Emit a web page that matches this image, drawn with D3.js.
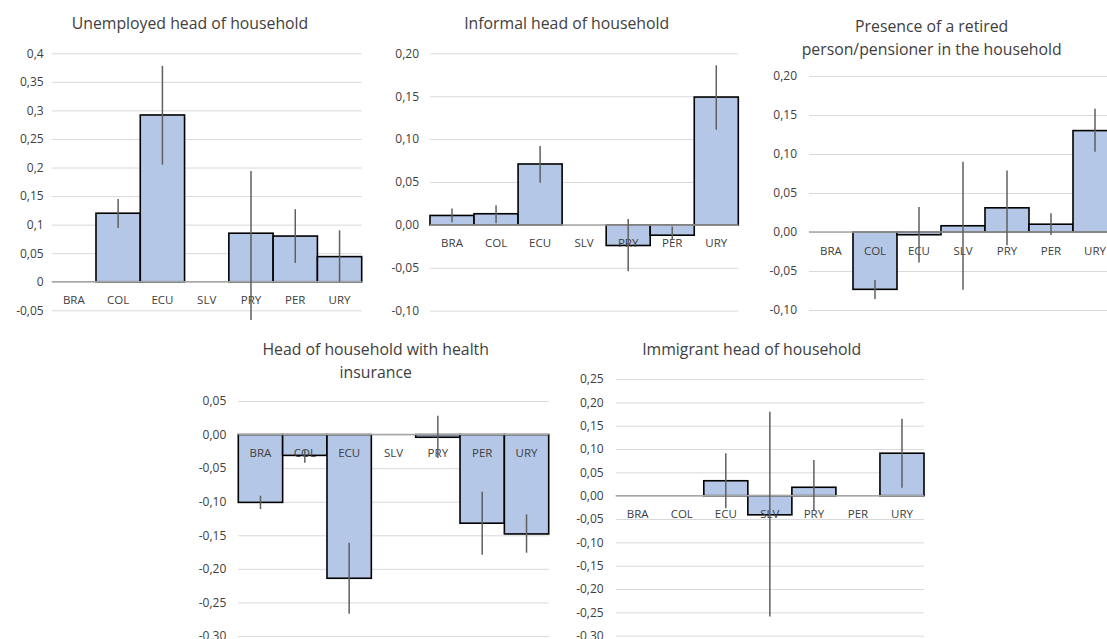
<!DOCTYPE html>
<html>
<head>
<meta charset="utf-8">
<script src="https://cdn.jsdelivr.net/npm/d3@7"></script>
<style>
  html, body { margin: 0; padding: 0; background: #ffffff; }
  svg { display: block; }
  text { font-family: "Open Sans", "Noto Sans", sans-serif; fill: #404040; }
</style>
</head>
<body>
<svg id="chart" width="1107" height="639"></svg>
<script>
// Countries shown on every panel
const categories = ["BRA", "COL", "ECU", "SLV", "PRY", "PER", "URY"];

// Unemployed head of household
const unemployed     = [null, 0.120, 0.292, null, 0.085, 0.080, 0.044];
const unemployedHigh = [null, 0.145, 0.378, null, 0.194, 0.127, 0.090];
const unemployedLow  = [null, 0.094, 0.205, null, -0.067, 0.033, 0.000];
const unemployedTicks = [-0.05, 0, 0.05, 0.1, 0.15, 0.2, 0.25, 0.3, 0.35, 0.4];
const unemployedTickLabels = ["-0,05", "0", "0,05", "0,1", "0,15", "0,2", "0,25", "0,3", "0,35", "0,4"];

// Informal head of household
const informal     = [0.011, 0.013, 0.071, null, -0.024, -0.012, 0.149];
const informalHigh = [0.019, 0.023, 0.092, null, 0.007, -0.002, 0.186];
const informalLow  = [0.003, 0.002, 0.049, null, -0.054, -0.017, 0.111];
const informalTicks = [-0.10, -0.05, 0, 0.05, 0.10, 0.15, 0.20];
const informalTickLabels = ["-0,10", "-0,05", "0,00", "0,05", "0,10", "0,15", "0,20"];

// Presence of a retired person/pensioner in the household
const retired     = [null, -0.0735, -0.0035, 0.008, 0.031, 0.010, 0.130];
const retiredHigh = [null, -0.0615, 0.032, 0.090, 0.079, 0.024, 0.158];
const retiredLow  = [null, -0.086, -0.039, -0.074, -0.017, -0.004, 0.103];
const retiredTicks = [-0.10, -0.05, 0, 0.05, 0.10, 0.15, 0.20];
const retiredTickLabels = ["-0,10", "-0,05", "0,00", "0,05", "0,10", "0,15", "0,20"];

// Head of household with health insurance
const health     = [-0.101, -0.031, -0.214, null, -0.004, -0.132, -0.148];
const healthHigh = [-0.091, -0.022, -0.161, null, 0.028, -0.085, -0.119];
const healthLow  = [-0.111, -0.042, -0.267, null, -0.035, -0.179, -0.176];
const healthTicks = [-0.30, -0.25, -0.20, -0.15, -0.10, -0.05, 0, 0.05];
const healthTickLabels = ["-0,30", "-0,25", "-0,20", "-0,15", "-0,10", "-0,05", "0,00", "0,05"];

// Immigrant head of household
const immigrant     = [null, null, 0.032, -0.041, 0.018, null, 0.091];
const immigrantHigh = [null, null, 0.091, 0.180, 0.0765, null, 0.165];
const immigrantLow  = [null, null, -0.027, -0.259, -0.031, null, 0.017];
const immigrantTicks = [-0.30, -0.25, -0.20, -0.15, -0.10, -0.05, 0, 0.05, 0.10, 0.15, 0.20, 0.25];
const immigrantTickLabels = ["-0,30", "-0,25", "-0,20", "-0,15", "-0,10", "-0,05", "0,00", "0,05", "0,10", "0,15", "0,20", "0,25"];

// Panel placement: plot box, label padding and title lines
const panels = [
  { title: ["Unemployed head of household"], titleX: 190, titleY: 29,
    x0: 51.7, x1: 361.7, yTop: 53.3, yBottom: 310.3, pad: 8,
    values: unemployed, high: unemployedHigh, low: unemployedLow,
    ticks: unemployedTicks, tickLabels: unemployedTickLabels },
  { title: ["Informal head of household"], titleX: 566.7, titleY: 29,
    x0: 430, x1: 738.3, yTop: 53.3, yBottom: 310.7, pad: 11,
    values: informal, high: informalHigh, low: informalLow,
    ticks: informalTicks, tickLabels: informalTickLabels },
  { title: ["Presence of a retired", "person/pensioner in the household"], titleX: 931.7, titleY: 32.3,
    x0: 809, x1: 1117, yTop: 76, yBottom: 310, pad: 12,
    values: retired, high: retiredHigh, low: retiredLow,
    ticks: retiredTicks, tickLabels: retiredTickLabels },
  { title: ["Head of household with health", "insurance"], titleX: 375.7, titleY: 355,
    x0: 238.3, x1: 548.7, yTop: 401, yBottom: 636, pad: 12,
    values: health, high: healthHigh, low: healthLow,
    ticks: healthTicks, tickLabels: healthTickLabels },
  { title: ["Immigrant head of household"], titleX: 751.7, titleY: 355,
    x0: 615.7, x1: 924, yTop: 379, yBottom: 635.7, pad: 12,
    values: immigrant, high: immigrantHigh, low: immigrantLow,
    ticks: immigrantTicks, tickLabels: immigrantTickLabels }
];

const svg = d3.select("#chart");

panels.forEach(p => {
  const g = svg.append("g");
  const domain = d3.extent(p.ticks);
  const y = d3.scaleLinear().domain(domain).range([p.yBottom, p.yTop]);
  const x = d3.scaleBand().domain(categories).range([p.x0, p.x1]).paddingInner(0).paddingOuter(0);

  // Title
  const title = g.append("text")
    .attr("x", p.titleX)
    .attr("y", p.titleY)
    .attr("text-anchor", "middle")
    .style("font-size", "15.8px")
    .style("fill", "#404040");
  p.title.forEach((line, i) => {
    title.append("tspan").attr("x", p.titleX).attr("dy", i === 0 ? 0 : 22.7).text(line);
  });

  // Horizontal gridlines and value labels
  const axis = d3.axisLeft(y)
    .tickValues(p.ticks)
    .tickFormat((d, i) => p.tickLabels[i])
    .tickSize(-(p.x1 - p.x0))
    .tickPadding(p.pad);
  const ax = g.append("g").attr("transform", `translate(${p.x0},0)`).call(axis);
  ax.select(".domain").remove();
  ax.selectAll(".tick line").attr("stroke", "#d9d9d9").attr("stroke-width", 1);
  ax.selectAll(".tick text")
    .style("font-size", "12px")
    .style("font-family", "'Open Sans', sans-serif")
    .attr("fill", "#404040");

  const rows = categories.map((c, i) => ({ c, v: p.values[i], hi: p.high[i], lo: p.low[i] }))
    .filter(d => d.v !== null);

  // Bars
  g.selectAll("rect.bar").data(rows).enter().append("rect")
    .attr("class", "bar")
    .attr("x", d => x(d.c))
    .attr("width", x.bandwidth())
    .attr("y", d => Math.min(y(d.v), y(0)))
    .attr("height", d => Math.abs(y(d.v) - y(0)))
    .attr("fill", "#b4c7e7")
    .attr("stroke", "#000000")
    .attr("stroke-width", 1.6);

  // Zero axis line
  g.append("line")
    .attr("x1", p.x0).attr("x2", p.x1)
    .attr("y1", y(0)).attr("y2", y(0))
    .attr("stroke", "#a6a6a6").attr("stroke-width", 1.5);

  // Category labels just below zero
  g.selectAll("text.cat").data(categories).enter().append("text")
    .attr("class", "cat")
    .attr("x", d => x(d) + x.bandwidth() / 2)
    .attr("y", y(0) + 22.5)
    .attr("text-anchor", "middle")
    .style("font-size", "11.5px")
    .style("fill", "#404040")
    .text(d => d);

  // Confidence interval whiskers
  g.selectAll("line.err").data(rows).enter().append("line")
    .attr("class", "err")
    .attr("x1", d => x(d.c) + x.bandwidth() / 2)
    .attr("x2", d => x(d.c) + x.bandwidth() / 2)
    .attr("y1", d => y(d.hi))
    .attr("y2", d => y(d.lo))
    .attr("stroke", "#5f5f5f")
    .attr("stroke-width", 1.5);
});
</script>
</body>
</html>
